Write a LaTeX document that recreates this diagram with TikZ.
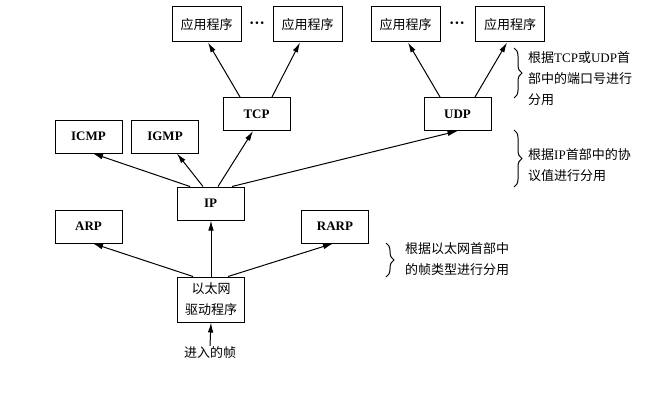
\documentclass[tikz,border=0pt]{standalone}
\usepackage{fontspec}
\setmainfont{Liberation Serif}
\newfontfamily\cjk{Noto Sans CJK SC}
\usetikzlibrary{arrows.meta,decorations.pathreplacing}

\tikzset{
  layer/.style = {draw, line width=1pt, minimum width=67pt, minimum height=33pt, inner sep=0pt, font=\fontsize{13}{15}\selectfont\bfseries},
  app/.style = {draw, line width=1pt, minimum width=69pt, minimum height=35pt, inner sep=0pt, font=\fontsize{13}{15}\selectfont\cjk},
  gap/.style = {inner sep=0pt, font=\fontsize{16}{18}\selectfont\bfseries},
  link/.style = {-{Latex[length=10pt,width=5.5pt]}, line width=1pt},
  note/.style = {anchor=west, align=left, inner sep=0pt, font=\fontsize{13}{21}\selectfont\cjk},
  demux/.style = {decorate, decoration={brace, amplitude=8pt}, line width=1pt}
}

\begin{document}
\begin{tikzpicture}[x=1pt, y=-1pt]
\useasboundingbox (0,0) rectangle (663,404);

\node[app] (app1) at (206.5,24.5) {应用程序};
\node[gap] (dots1) at (257,25) {···};
\node[app] (app2) at (307.5,24.5) {应用程序};
\node[app] (app3) at (405.5,24.5) {应用程序};
\node[gap] (dots2) at (457,25) {···};
\node[app] (app4) at (510,24.5) {应用程序};

\node[layer] (tcp) at (256.5,114) {TCP};
\node[layer] (udp) at (457.5,114) {UDP};
\node[layer] (icmp) at (88.5,136.5) {ICMP};
\node[layer] (igmp) at (165,136.5) {IGMP};
\node[layer] (ip) at (210.5,203.5) {IP};
\node[layer] (arp) at (88.5,226.5) {ARP};
\node[layer] (rarp) at (335,226.5) {RARP};
\node[layer, minimum height=45pt, align=center, font=\fontsize{13}{21}\selectfont\cjk] (driver) at (211,299.5) {以太网\\驱动程序};
\node[inner sep=1pt, font=\fontsize{13}{15}\selectfont\cjk] (frame) at (210,353) {进入的帧};

\draw[link] ([xshift=-16.5pt]tcp.north) -- ([xshift=1.5pt]app1.south);
\draw[link] ([xshift=15.5pt]tcp.north) -- ([xshift=-7.5pt]app2.south);
\draw[link] ([xshift=-17.5pt]udp.north) -- ([xshift=2.5pt]app3.south);
\draw[link] ([xshift=17.5pt]udp.north) -- ([xshift=-3pt]app4.south);
\draw[link] ([xshift=-20.5pt]ip.north) -- ([xshift=4.5pt]icmp.south);
\draw[link] ([xshift=-7.5pt]ip.north) -- ([xshift=12pt]igmp.south);
\draw[link] ([xshift=7.5pt]ip.north) -- ([xshift=-3.5pt]tcp.south);
\draw[link] ([xshift=21.5pt]ip.north) -- (udp.south);
\draw[link] ([xshift=-18pt]driver.north) -- ([xshift=4.5pt]arp.south);
\draw[link] (driver.north) -- (driver.north |- ip.south);
\draw[link] ([xshift=17pt]driver.north) -- ([xshift=-2pt]rarp.south);
\draw[link] (frame.north) -- (driver.south);

\coordinate (b1t) at (514,48);
\coordinate (b1b) at (514,98);
\coordinate (b2t) at (514,130);
\coordinate (b2b) at (514,187);
\coordinate (b3t) at (386,243);
\coordinate (b3b) at (386,277);
\draw[demux] (b1t) -- (b1b);
\draw[demux] (b2t) -- (b2b);
\draw[demux] (b3t) -- (b3b);

\node[note] (note1) at (528,79) {根据{\rmfamily TCP}或{\rmfamily UDP}首\\部中的端口号进行\\分用};
\node[note] (note2) at (528,165) {根据{\rmfamily IP}首部中的协\\议值进行分用};
\node[note] (note3) at (405,259) {根据以太网首部中\\的帧类型进行分用};
\end{tikzpicture}
\end{document}
